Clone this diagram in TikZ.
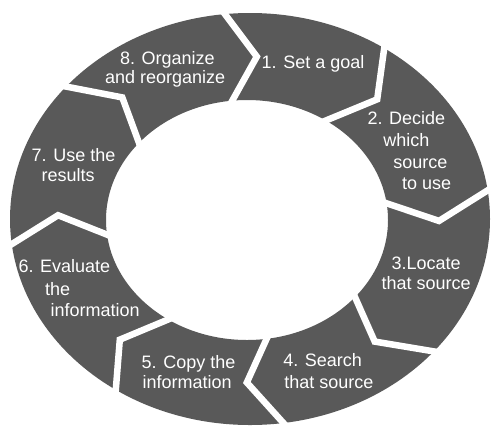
\documentclass[tikz,border=0pt]{standalone}
\usepackage{fontspec}
\setmainfont{Liberation Sans}
\definecolor{ringgray}{RGB}{89,89,89}
\begin{document}
\begin{tikzpicture}[x=1pt,y=-1pt,
  lbl/.style={anchor=base west, inner sep=0pt, outer sep=0pt, text=white, font=\fontsize{18}{20}\selectfont},
  sepline/.style={draw=white, line width=6.5pt, line join=miter, miter limit=10, shorten <=-6pt, shorten >=-6pt}]
\useasboundingbox (0,0) rectangle (500,445);
\fill[ringgray, even odd rule] (250,219) ellipse [x radius=240pt, y radius=206pt]
                               (247,220) ellipse [x radius=141pt, y radius=120pt];
\foreach \t in {96,56,8,-40,-82,-124,-173,140}{
  \draw[sepline] ({247+141*cos(\t)},{220-120*sin(\t)})
     -- ({248.5+190.5*cos(\t-8.5)},{219.5-163*sin(\t-8.5)})
     -- ({250+240*cos(\t)},{219-206*sin(\t)});
}
\node[lbl] (l1)  at (261.7,68.3) {1. Set a goal};
\node[lbl] (l2a) at (367.5,124.5) {2. Decide};
\node[lbl] (l2b) at (383.3,146) {which};
\node[lbl] (l2c) at (393.3,168) {source};
\node[lbl] (l2d) at (402,189) {to use};
\node[lbl] (l3a) at (391.7,269) {3.Locate};
\node[lbl] (l3b) at (381.7,289.5) {that source};
\node[lbl] (l4a) at (283.3,366.7) {4. Search};
\node[lbl] (l4b) at (284.3,388.3) {that source};
\node[lbl] (l5a) at (141.7,368.3) {5. Copy the};
\node[lbl] (l5b) at (142.7,388.3) {information};
\node[lbl] (l6a) at (18.5,272.7) {6. Evaluate};
\node[lbl] (l6b) at (45,295) {the};
\node[lbl] (l6c) at (50.7,316.7) {information};
\node[lbl] (l7a) at (31.7,161.7) {7. Use the};
\node[lbl] (l7b) at (41.7,181.7) {results};
\node[lbl] (l8a) at (120,64) {8. Organize};
\node[lbl] (l8b) at (105,83.3) {and reorganize};
\end{tikzpicture}
\end{document}
